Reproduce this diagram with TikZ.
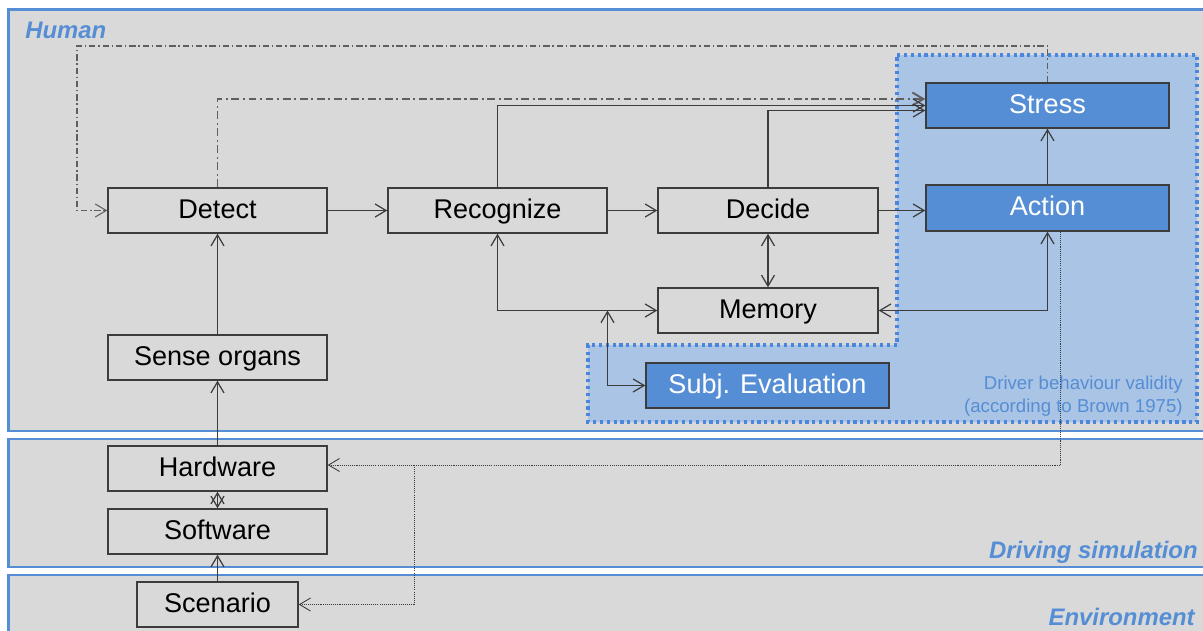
\documentclass[tikz,border=0pt]{standalone}
\usepackage{fontspec}
\setmainfont{Liberation Sans}
\usepackage{xcolor}
\definecolor{bandgray}{RGB}{217,217,217}
\definecolor{bandblue}{RGB}{85,142,213}
\definecolor{zoneblue}{RGB}{169,196,228}
\definecolor{zoneedge}{RGB}{74,134,220}
\definecolor{linegray}{RGB}{60,60,60}
\definecolor{dashgray}{RGB}{95,95,95}
\usetikzlibrary{arrows.meta, positioning}

\tikzset{
  band/.style={fill=bandgray, draw=bandblue, line width=1.7pt},
  bandlabel/.style={font=\fontsize{13.6}{16}\selectfont\bfseries\itshape, text=bandblue, inner sep=0pt},
  stage/.style={draw=linegray, fill=bandgray, line width=0.8pt, minimum width=4.38cm, minimum height=0.9cm,
    inner sep=0pt, text height=1.0em, text depth=0.12em, font=\fontsize{15.4}{18}\selectfont},
  hot/.style={stage, fill=bandblue, text=white, minimum width=4.86cm},
  conn/.style={draw=linegray, line width=0.7pt},
  dashthick/.style={draw=dashgray, line width=1.1pt, dash pattern=on 4.5pt off 2pt on 1.2pt off 2pt},
  dashthin/.style={draw=dashgray, line width=0.6pt, dash pattern=on 3.6pt off 1.6pt on 0.8pt off 1.6pt},
  dotline/.style={draw=linegray, line width=0.5pt, dash pattern=on 0.6pt off 0.6pt},
  zonetext/.style={font=\fontsize{10.6}{13}\selectfont, text=bandblue, align=right, inner sep=0pt}
}

\begin{document}
\begin{tikzpicture}[>={Straight Barb[length=0.22cm, width=0.26cm]}]
  \clip (0,0) rectangle (24.06,12.6);
  \fill[white] (0,0) rectangle (24.06,12.6);

  % Three layers
  \draw[band] (0.17,12.41) rectangle (25,3.98);
  \draw[band] (0.17,3.82) rectangle (25,1.26);
  \draw[band] (0.17,1.10) rectangle (25,-1);
  \node[bandlabel, anchor=base west] (human) at (0.5,11.84) {Human};
  \node[bandlabel, anchor=base east] (driving) at (23.96,1.44) {Driving simulation};
  \node[bandlabel, anchor=base east] (environment) at (23.9,0.1) {Environment};

  % Validity zone
  \draw[fill=zoneblue, draw=zoneedge, line width=2pt, dash pattern=on 1.8pt off 2.1pt]
    (17.94,11.5) -- (23.94,11.5) -- (23.94,4.16) -- (11.76,4.16) -- (11.76,5.7) -- (17.94,5.7) -- cycle;
  \node[zonetext, anchor=east] (validity) at (23.66,4.67) {Driver behaviour validity\\(according to Brown 1975)};

  % Stages
  \node[stage] (Detect) at (4.35,8.39) {Detect};
  \node[stage] (Recognize) at (9.95,8.39) {Recognize};
  \node[stage, minimum width=4.4cm] (Decide) at (15.36,8.39) {Decide};
  \node[hot] (Stress) at (20.95,10.49) {Stress};
  \node[hot, minimum height=0.92cm] (Action) at (20.95,8.44) {Action};
  \node[stage] (SenseOrgans) at (4.35,5.45) {Sense organs};
  \node[stage, minimum width=4.4cm] (Memory) at (15.36,6.39) {Memory};
  \node[hot] (SubjEval) at (15.35,4.89) {Subj. Evaluation};
  \node[stage] (Hardware) at (4.35,3.23) {Hardware};
  \node[stage] (Software) at (4.35,1.97) {Software};
  \node[stage, minimum width=3.22cm] (Scenario) at (4.35,0.51) {Scenario};

  \coordinate (loopcorner) at (1.54,11.68);
  \coordinate (evaljoin) at (12.15,6.39);
  \coordinate (scenjoin) at (8.28,3.30);

  % Main chain
  \draw[conn, ->] (Detect) -- (Recognize);
  \draw[conn, ->] (Recognize) -- (Decide);
  \draw[conn, ->] (Decide.east) -- (Decide.east -| Action.west);
  \draw[conn, ->] (Action) -- (Stress);
  \draw[conn, ->] (SenseOrgans) -- (Detect);
  \draw[conn, ->] (Hardware) -- (SenseOrgans);
  \draw[conn, <->] (Hardware) -- (Software);
  \draw[conn, ->] (Scenario) -- (Software);

  % Into stress
  \draw[dashthick, ->] (Detect.north) |- ([yshift=0.13cm]Stress.west);
  \draw[conn, ->] (Recognize.north) |- (Stress.west);
  \draw[conn, ->] (Decide.north) |- ([yshift=-0.1cm]Stress.west);
  \draw[dashthin, ->] (Stress.north) |- (loopcorner) |- (Detect.west);

  % Memory
  \draw[conn, <->] (Decide) -- (Memory);
  \draw[conn, <->] (Recognize.south) |- (Memory.west);
  \draw[conn, <->] (evaljoin) |- (SubjEval.west);
  \draw[conn, <->] (Action.south) |- (Memory.east);

  % Feedback to the simulator
  \draw[dotline, ->] ([xshift=0.26cm]Action.south) |- ([yshift=0.07cm]Hardware.east);
  \draw[dotline, ->] (scenjoin) |- (Scenario.east);
\end{tikzpicture}
\end{document}
